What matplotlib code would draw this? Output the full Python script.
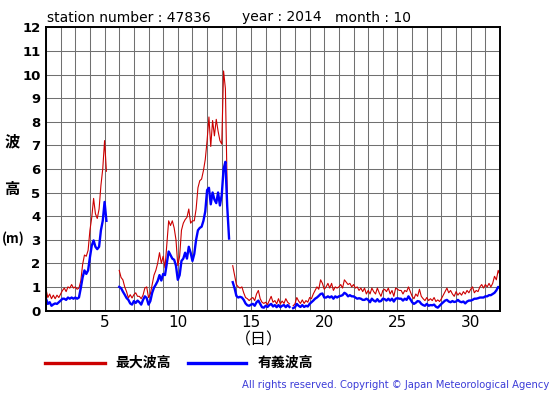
import numpy as np
import matplotlib
matplotlib.use("Agg")
import matplotlib.pyplot as plt
from matplotlib.lines import Line2D

plt.rcParams['font.family'] = ['DejaVu Sans', 'Noto Sans CJK JP']

nan = np.nan
samples_per_day = 8  # 3-hourly readings, day 1 00h .. day 32 00h

# 最大波高 (maximum wave height, m)
max_wave = [
    0.9, 0.55, 0.7, 0.5, 0.65, 0.5, 0.65, 0.55,      # 1
    0.7, 0.85, 0.95, 0.8, 1.0, 0.95, 1.1, 0.95,      # 2
    1.0, 0.9, 0.95, 1.25, 1.95, 2.35, 2.3, 2.55,     # 3
    3.4, 3.95, 4.75, 4.1, 3.9, 4.3, 5.3, 6.0,        # 4
    7.2, 5.9, nan, nan, nan, nan, nan, nan,          # 5
    1.7, 1.4, 1.3, 1.0, 0.8, 0.53, 0.67, 0.53,       # 6
    0.67, 0.75, 0.6, 0.6, 0.5, 0.65, 0.95, 1.0,      # 7
    0.55, 0.7, 1.1, 1.5, 1.7, 2.0, 2.45, 2.0,        # 8
    2.3, 1.8, 2.8, 3.8, 3.6, 3.8, 3.5, 3.0,          # 9
    1.9, 2.3, 3.4, 3.7, 3.85, 3.95, 4.3, 3.7,        # 10
    3.8, 3.8, 4.3, 5.2, 5.5, 5.57, 5.93, 6.4,        # 11
    7.2, 8.2, 6.95, 8.05, 7.4, 8.1, 7.6, 7.2,        # 12
    7.05, 10.15, 9.4, 5.0, nan, nan, 1.9, 1.5,       # 13
    1.1, 1.0, 0.95, 1.0, 0.75, 0.55, 0.5, 0.42,      # 14
    0.5, 0.55, 0.42, 0.7, 0.85, 0.5, 0.35, 0.3,      # 15
    0.35, 0.25, 0.42, 0.6, 0.35, 0.42, 0.28, 0.5,    # 16
    0.28, 0.4, 0.3, 0.5, 0.35, 0.28, nan, 0.2,       # 17
    0.28, 0.55, 0.4, 0.3, 0.45, 0.3, 0.42, 0.35,     # 18
    0.55, 0.5, 0.7, 0.85, 1.0, 0.9, 1.3, 1.15,       # 19
    0.9, 1.0, 1.15, 0.95, 1.15, 0.85, 1.0, 0.95,     # 20
    1.0, 1.1, 0.95, 1.3, 1.2, 1.1, 1.15, 1.0,        # 21
    1.1, 0.95, 1.0, 0.85, 0.95, 0.8, 0.95, 0.7,      # 22
    0.85, 0.7, 0.95, 0.8, 0.7, 0.95, 0.75, 0.6,      # 23
    0.85, 0.9, 0.8, 0.95, 0.7, 0.85, 0.6, 0.95,      # 24
    0.9, 0.85, 0.85, 0.7, 0.85, 0.8, 1.0, 0.8,       # 25
    0.6, 0.5, 0.7, 0.6, 0.9, 0.6, 0.5, 0.42,         # 26
    0.55, 0.42, 0.5, 0.42, 0.55, 0.38, 0.45, 0.38,   # 27
    0.5, 0.65, 0.8, 0.95, 0.75, 0.85, 0.7, 0.6,      # 28
    0.8, 0.65, 0.75, 0.65, 0.8, 0.7, 0.85, 0.75,     # 29
    0.9, 1.0, 0.75, 0.85, 0.8, 1.0, 1.1, 0.95,       # 30
    1.1, 1.0, 1.15, 1.0, 1.15, 1.45, 1.3, 1.7,       # 31
    1.5,
]

# 有義波高 (significant wave height, m)
sig_wave = [
    0.5, 0.28, 0.35, 0.2, 0.26, 0.3, 0.28, 0.35,     # 1
    0.42, 0.5, 0.5, 0.45, 0.55, 0.5, 0.55, 0.5,      # 2
    0.55, 0.5, 0.55, 0.95, 1.4, 1.7, 1.55, 1.7,      # 3
    2.26, 2.75, 2.97, 2.7, 2.6, 2.7, 3.4, 3.8,       # 4
    4.6, 3.8, nan, nan, nan, nan, nan, nan,          # 5
    1.0, 0.95, 0.8, 0.67, 0.53, 0.45, 0.3, 0.25,     # 6
    0.4, 0.32, 0.42, 0.35, 0.25, 0.45, 0.6, 0.53,    # 7
    0.25, 0.4, 0.75, 0.97, 1.1, 1.25, 1.5, 1.27,     # 8
    1.55, 1.5, 2.0, 2.5, 2.35, 2.2, 2.15, 1.9,       # 9
    1.3, 1.5, 2.1, 2.2, 2.45, 2.2, 2.7, 2.45,        # 10
    2.1, 2.4, 3.0, 3.4, 3.5, 3.55, 3.8, 4.2,         # 11
    5.1, 5.2, 4.5, 5.0, 4.7, 4.55, 5.0, 4.45,        # 12
    4.9, 6.0, 6.3, 4.4, 3.05, nan, 1.2, 0.95,        # 13
    0.62, 0.55, 0.58, 0.55, 0.45, 0.3, 0.22, 0.2,    # 14
    0.25, 0.28, 0.2, 0.35, 0.42, 0.28, 0.14, 0.12,   # 15
    0.2, 0.15, 0.23, 0.28, 0.17, 0.23, 0.14, 0.23,   # 16
    0.14, 0.2, 0.23, 0.14, 0.23, 0.15, nan, 0.1,     # 17
    0.14, 0.28, 0.2, 0.15, 0.23, 0.15, 0.2, 0.17,    # 18
    0.28, 0.35, 0.42, 0.5, 0.55, 0.62, 0.7, 0.72,    # 19
    0.55, 0.55, 0.6, 0.55, 0.6, 0.5, 0.6, 0.55,      # 20
    0.6, 0.62, 0.65, 0.75, 0.7, 0.6, 0.65, 0.6,      # 21
    0.6, 0.55, 0.5, 0.52, 0.5, 0.45, 0.45, 0.5,      # 22
    0.45, 0.35, 0.5, 0.42, 0.38, 0.48, 0.38, 0.4,    # 23
    0.5, 0.48, 0.42, 0.5, 0.42, 0.5, 0.38, 0.5,      # 24
    0.52, 0.5, 0.5, 0.42, 0.5, 0.45, 0.6, 0.48,      # 25
    0.35, 0.28, 0.33, 0.4, 0.38, 0.28, 0.23, 0.2,    # 26
    0.28, 0.2, 0.23, 0.22, 0.25, 0.16, 0.12, 0.2,    # 27
    0.28, 0.35, 0.42, 0.45, 0.38, 0.35, 0.4, 0.36,   # 28
    0.38, 0.45, 0.38, 0.35, 0.38, 0.3, 0.38, 0.42,   # 29
    0.42, 0.45, 0.5, 0.5, 0.52, 0.55, 0.55, 0.55,    # 30
    0.6, 0.6, 0.65, 0.65, 0.7, 0.75, 0.85, 1.0,      # 31
    0.95,
]

x_ticks = [5, 10, 15, 20, 25, 30]
y_ticks = list(range(0, 13))

days = 1 + np.arange(len(max_wave)) / samples_per_day

W, H = 555, 395
fig = plt.figure(figsize=(W / 100, H / 100), dpi=100)
fig.patch.set_facecolor('white')

def fx(px):
    return px / W

def fy(py):
    return 1 - py / H

ax = fig.add_axes([fx(46), fy(310.5), (500 - 46) / W, (310.5 - 27.3) / H])
ax.plot(days, max_wave, color='#cc0000', lw=0.8, zorder=3)
ax.plot(days, sig_wave, color='#0000ff', lw=1.7, zorder=4)
ax.set_xlim(1, 32)
ax.set_ylim(0, 12)

all_days = list(range(1, 33))
ax.set_xticks(all_days)
ax.set_xticklabels([str(d) if d in x_ticks else '' for d in all_days], fontsize=11)
ax.set_yticks(y_ticks)
ax.set_yticklabels([str(v) for v in y_ticks], fontsize=9.5, fontweight='bold')
ax.tick_params(axis='both', length=0)
ax.tick_params(axis='x', pad=3)
ax.tick_params(axis='y', pad=4)
ax.grid(True, color='#707070', lw=0.75, zorder=1)
ax.set_axisbelow(True)
for s in ax.spines.values():
    s.set_linewidth(1.4)
    s.set_color('black')
    s.set_zorder(5)

# title
fig.text(fx(47), fy(17.5), 'station number : 47836', fontsize=10, va='center')
fig.text(fx(242), fy(17.5), 'year : 2014', fontsize=10, va='center')
fig.text(fx(335), fy(17.5), 'month : 10', fontsize=10, va='center')

# y label (vertical stacked)
cjk = 'Noto Sans CJK JP'
fig.text(fx(12), fy(141), '波', fontsize=11, family=cjk, fontweight='bold', ha='center', va='center')
fig.text(fx(12), fy(189), '高', fontsize=11, family=cjk, fontweight='bold', ha='center', va='center')
fig.text(fx(13), fy(239), '(m)', fontsize=9.5, family=cjk, fontweight='bold', ha='center', va='center')

# x label
fig.text(fx(259), fy(340), '（日）', fontsize=11.5, family=cjk, ha='center', va='center')

# legend
fig.add_artist(Line2D([fx(45), fx(105)], [fy(363), fy(363)], color='#cc0000', lw=2.4))
fig.text(fx(115), fy(363), '最大波高', fontsize=10, family=cjk, fontweight='bold', va='center')
fig.add_artist(Line2D([fx(188), fx(246)], [fy(363), fy(363)], color='#0000ff', lw=2.4))
fig.text(fx(258), fy(363), '有義波高', fontsize=10, family=cjk, fontweight='bold', va='center')

# copyright
fig.text(fx(549), fy(385), 'All rights reserved. Copyright © Japan Meteorological Agency',
         fontsize=7.2, color='#3c3cd8', ha='right', va='center')

fig.savefig('out.png', dpi=100)
